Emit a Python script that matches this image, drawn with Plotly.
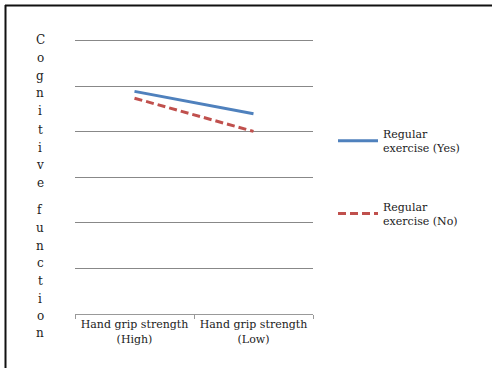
import plotly.graph_objects as go

categories = ["Hand grip strength<br>(High)", "Hand grip strength<br>(Low)"]
series_names = ["Regular<br>exercise (Yes)", "Regular<br>exercise (No)"]
yes_values = [4.89, 4.40]
no_values = [4.74, 4.01]
y_title = "Cognitive function"

W, H = 492, 368
L, R, T, B = 75, 179, 39, 54
pw, ph = W - L - R, H - T - B
YMAX = 6.04

def px_to_paper_x(px):
    return (px - L) / pw

def px_to_paper_y(py):
    return (H - B - py) / ph

FONT = "DejaVu Serif"

fig = go.Figure()
fig.add_trace(go.Scatter(x=categories, y=yes_values, mode="lines", name=series_names[0],
                         line=dict(color="#4F81BD", width=3), legendgroup="a"))
fig.add_trace(go.Scatter(x=categories, y=no_values, mode="lines", name=series_names[1],
                         line=dict(color="#C0504D", width=3, dash="8px,4px"), legendgroup="b"))

# vertical stacked title
ys = [40, 58, 76, 93, 111, 130, 148, 165, 183, None, 210, 228, 246, 263, 281, 299, 316, 333]
annotations = []
for ch, py in zip(y_title, ys):
    if ch == " " or py is None:
        continue
    annotations.append(dict(text=ch, xref="paper", yref="paper", x=px_to_paper_x(40),
                            y=px_to_paper_y(py), showarrow=False, xanchor="center", yanchor="middle",
                            font=dict(family=FONT, size=12, color="#222")))

border = dict(color="#111", width=2)
fig.update_layout(
    width=W, height=H,
    margin=dict(l=L, r=R, t=T, b=B),
    paper_bgcolor="white", plot_bgcolor="white",
    font=dict(family=FONT, size=11, color="#222"),
    xaxis=dict(type="category", showgrid=False, showline=True, linecolor="#999", linewidth=1,
               ticks="outside", tickson="boundaries", ticklen=4, tickcolor="#999",
               tickfont=dict(family=FONT, size=11, color="#222"), range=[-0.5, 1.5], fixedrange=True),
    yaxis=dict(range=[0, YMAX], tickvals=[1, 2, 3, 4, 5, 6], showticklabels=False, showgrid=True,
               gridcolor="#888", gridwidth=1, zeroline=False, showline=False, ticks="", fixedrange=True),
    showlegend=True,
    legend=dict(x=px_to_paper_x(333), y=px_to_paper_y(120), xanchor="left", yanchor="top",
                traceorder="grouped", tracegroupgap=41, itemwidth=40, bgcolor="rgba(0,0,0,0)",
                font=dict(family=FONT, size=11, color="#222")),
    annotations=annotations,
    shapes=[
        dict(type="line", xref="paper", yref="paper", x0=px_to_paper_x(5), x1=px_to_paper_x(700),
             y0=px_to_paper_y(5.5), y1=px_to_paper_y(5.5), line=border, layer="above"),
        dict(type="line", xref="paper", yref="paper", x0=px_to_paper_x(5.5), x1=px_to_paper_x(5.5),
             y0=px_to_paper_y(5), y1=px_to_paper_y(600), line=border, layer="above"),
    ],
)

fig.write_html("out.html", config={"displayModeBar": False},
               post_script="document.body.style.margin='0px';document.body.style.overflow='hidden';"
                           "document.documentElement.style.overflow='hidden';")
